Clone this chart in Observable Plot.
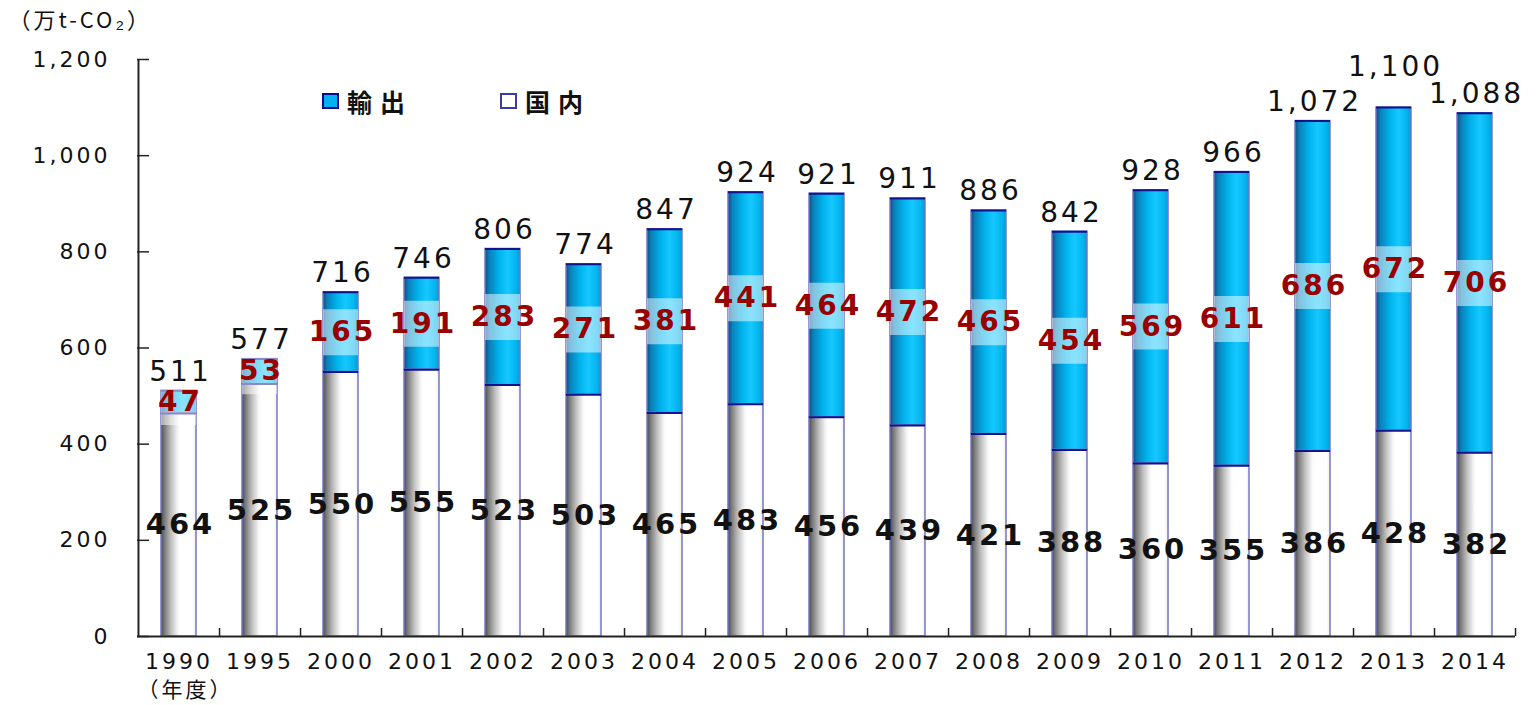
<!DOCTYPE html>
<html>
<head>
<meta charset="utf-8">
<script src="https://cdn.jsdelivr.net/npm/d3@7"></script>
<script src="https://cdn.jsdelivr.net/npm/@observablehq/plot@0.6"></script>
<style>
  html, body { margin: 0; padding: 0; background: #fff; overflow: hidden; }
  #chart { position: relative; width: 1539px; height: 705px; }
  .legend-item { position: absolute; display: flex; align-items: center;
    font-family: "Noto Sans CJK JP", sans-serif; font-weight: bold; font-size: 25px;
    letter-spacing: 8px; color: #111; }
  .legend-item .sw { width: 13px; height: 12px; border: 2px solid; margin-right: 8px; }
</style>
</head>
<body>
<div id="chart"></div>
<script>
// 年度別 CO2 量（万t-CO2）：国内分と輸出分の積み上げ
const years    = ["1990","1995","2000","2001","2002","2003","2004","2005","2006","2007","2008","2009","2010","2011","2012","2013","2014"];
const domestic = [464, 525, 550, 555, 523, 503, 465, 483, 456, 439, 421, 388, 360, 355, 386, 428, 382];
const exported = [47, 53, 165, 191, 283, 271, 381, 441, 464, 472, 465, 454, 569, 611, 686, 672, 706];
const totals   = [511, 577, 716, 746, 806, 774, 847, 924, 921, 911, 886, 842, 928, 966, 1072, 1100, 1088];
const yTicks   = [0, 200, 400, 600, 800, 1000, 1200];
const unitLabel = "（万t-CO₂）";
const yearLabel = "（年度）";
const seriesNames = ["輸出", "国内"];

const W = 1539, H = 705, ML = 137, MR = 24, MT = 59, MB = 69;
const step = (W - ML - MR) / years.length;
const fmt = d3.format(",");

const rows = years.map((year, i) => ({
  year, dom: domestic[i], exp: exported[i], total: totals[i],
  // a total label squeezed between two nearly equal neighbours is lifted
  lifted: i > 0 && i < years.length - 1 &&
          totals[i] > totals[i - 1] && totals[i] > totals[i + 1] &&
          totals[i] - totals[i - 1] < 40 && totals[i] - totals[i + 1] < 40
}));

const numFont = "DejaVu Sans, Noto Sans CJK JP, sans-serif";
const jpFont = "Noto Sans CJK JP, sans-serif";

const svg = Plot.plot({
  width: W, height: H,
  marginLeft: ML, marginRight: MR, marginTop: MT, marginBottom: MB,
  style: { fontFamily: numFont, fontSize: "22px", background: "white", color: "#111" },
  x: { domain: years, paddingInner: 0.57, paddingOuter: 0.285, axis: null },
  y: { domain: [0, 1200], axis: null },
  marks: [
    // stacked bars
    Plot.barY(rows, { x: "year", y1: 0, y2: "dom", fill: "url(#gDom)", stroke: "#7676c8", strokeWidth: 1.5 }),
    Plot.barY(rows, { x: "year", y1: "dom", y2: "total", fill: "url(#gExp)", stroke: "#7676c8", strokeWidth: 1.5 }),
    Plot.tickY(rows, { x: "year", y: "total", stroke: "#12128c", strokeWidth: 2 }),
    Plot.tickY(rows, { x: "year", y: "dom", stroke: "#12128c", strokeWidth: 2 }),
    // translucent backdrop behind export values
    Plot.tickY(rows, { x: "year", y: d => d.dom + d.exp / 2, stroke: "white", strokeOpacity: 0.5, strokeWidth: 46 }),
    // axes
    Plot.ruleY([0], { stroke: "#222", strokeWidth: 2 }),
    Plot.ruleX([years[0]], { dx: -step / 2, stroke: "#222", strokeWidth: 2 }),
    Plot.ruleY(yTicks, { insetRight: W - ML - MR - 12, stroke: "#222", strokeWidth: 1.5 }),
    Plot.ruleX(years, { dx: step / 2, insetTop: H - MT - MB - 8, stroke: "#222", strokeWidth: 1.5 }),
    Plot.axisY({ ticks: yTicks, tickSize: 0, tickPadding: 27, tickFormat: fmt, fontSize: 22, label: null }),
    Plot.axisX({ tickSize: 0, tickPadding: 17, fontSize: 22, label: null }),
    // value labels
    Plot.text(rows, { x: "year", y: d => d.dom + d.exp / 2, text: d => fmt(d.exp), fill: "#990000", fontWeight: "bold", fontSize: 28, dx: 1.5 }),
    Plot.text(rows, { x: "year", y: d => d.dom / 2, text: d => fmt(d.dom), fill: "#111", fontWeight: "bold", fontSize: 29, dx: 1.5 }),
    Plot.text(rows.filter(d => !d.lifted), { x: "year", y: "total", text: d => fmt(d.total), lineAnchor: "bottom", dy: -10, fontSize: 28, fill: "#111", dx: 1.5 }),
    Plot.text(rows.filter(d => d.lifted), { x: "year", y: "total", text: d => fmt(d.total), lineAnchor: "bottom", dy: -32, fontSize: 28, fill: "#111", dx: 1.5 }),
    // unit and year captions
    Plot.text([unitLabel], { frameAnchor: "top-left", text: d => d, textAnchor: "start", lineAnchor: "top", dx: -129, dy: -47, fontSize: 22, fontFamily: jpFont }),
    Plot.text([yearLabel], { frameAnchor: "bottom-left", text: d => d, textAnchor: "start", lineAnchor: "bottom", dx: 0, dy: 60, fontSize: 21, fontFamily: jpFont })
  ]
});

svg.style.letterSpacing = "3px";
svg.insertAdjacentHTML("afterbegin", `
<defs>
  <linearGradient id="gDom" x1="0" x2="1" y1="0" y2="0">
    <stop offset="0" stop-color="#4c4c4c"/>
    <stop offset="0.1" stop-color="#7a7a7a"/>
    <stop offset="0.28" stop-color="#bdbdbd"/>
    <stop offset="0.48" stop-color="#f6f6f6"/>
    <stop offset="0.55" stop-color="#ffffff"/>
    <stop offset="0.9" stop-color="#ffffff"/>
    <stop offset="1" stop-color="#ececec"/>
  </linearGradient>
  <linearGradient id="gExp" x1="0" x2="1" y1="0" y2="0">
    <stop offset="0" stop-color="#0a4f7c"/>
    <stop offset="0.12" stop-color="#0a80ba"/>
    <stop offset="0.4" stop-color="#00b3ec"/>
    <stop offset="0.65" stop-color="#16c8ff"/>
    <stop offset="0.9" stop-color="#02b2ec"/>
    <stop offset="1" stop-color="#0a96cf"/>
  </linearGradient>
</defs>`);

const chart = document.getElementById("chart");
chart.appendChild(svg);

// legend
const legendItems = [
  { name: seriesNames[0], fill: "#00b0f0", border: "#0a0a8a", left: 322 },
  { name: seriesNames[1], fill: "#ffffff", border: "#3a3aa8", left: 500 }
];
for (const item of legendItems) {
  const el = document.createElement("div");
  el.className = "legend-item";
  el.style.left = item.left + "px";
  el.style.top = "83px";
  el.innerHTML = `<span class="sw" style="background:${item.fill};border-color:${item.border}"></span><span>${item.name}</span>`;
  chart.appendChild(el);
}
</script>
</body>
</html>
